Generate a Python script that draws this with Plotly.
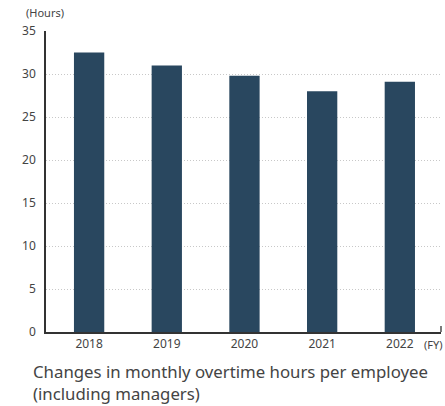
import plotly.graph_objects as go

years = ["2018", "2019", "2020", "2021", "2022"]
overtime_hours = [32.5, 31.0, 29.8, 28.0, 29.1]
y_ticks = [0, 5, 10, 15, 20, 25, 30, 35]

BAR_COLOR = "#29475f"
TEXT_COLOR = "#444444"
FONT = "Noto Sans"

fig = go.Figure()
fig.add_trace(
    go.Bar(
        x=years,
        y=overtime_hours,
        marker=dict(color=BAR_COLOR, line=dict(width=0)),
        width=0.39,
        showlegend=False,
        hoverinfo="x+y",
    )
)

# small tick at the right end of the x axis
fig.add_shape(
    type="line", xref="paper", yref="y",
    x0=1, x1=1, y0=0, y1=0.7,
    line=dict(color="#333333", width=1.3),
)

fig.add_annotation(
    text="(Hours)", xref="paper", yref="paper",
    x=-0.056, y=1.06, xanchor="left", yanchor="middle",
    showarrow=False, font=dict(family=FONT, size=11, color=TEXT_COLOR),
)
fig.add_annotation(
    text="(FY)", xref="paper", yref="paper",
    x=1.01, y=-0.043, xanchor="right", yanchor="middle",
    showarrow=False, font=dict(family=FONT, size=11, color=TEXT_COLOR),
)
fig.add_annotation(
    text="Changes in monthly overtime hours per employee<br>(including managers)",
    xref="paper", yref="paper",
    x=-0.038, y=-0.088, xanchor="left", yanchor="top", align="left",
    showarrow=False, font=dict(family=FONT, size=16.8, color=TEXT_COLOR),
)

fig.update_layout(
    width=445,
    height=406,
    margin=dict(l=46, r=4, t=31, b=74, autoexpand=False),
    plot_bgcolor="white",
    paper_bgcolor="white",
    font=dict(family=FONT, size=12, color=TEXT_COLOR),
)
fig.update_xaxes(
    type="category",
    range=[-0.555, 4.53],
    showline=True, linecolor="#333333", linewidth=1.5,
    showgrid=False, ticks="", tickfont=dict(size=12, color=TEXT_COLOR),
)
fig.update_yaxes(
    range=[0, 35],
    tickvals=y_ticks,
    showline=True, linecolor="#333333", linewidth=1.5,
    showgrid=True, gridcolor="#c8c8c8", griddash="1px,2px", gridwidth=1,
    zeroline=False, ticks="", ticklabelstandoff=6,
    tickfont=dict(size=12, color=TEXT_COLOR),
)

# drop the default page margin so the figure sits at the window's corner
fig.write_html(
    "out.html",
    config={"displayModeBar": False},
    post_script="document.body.style.margin='0';",
)
